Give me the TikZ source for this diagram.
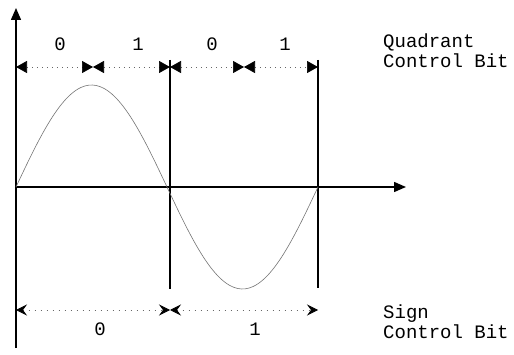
\documentclass[tikz,border=0pt]{standalone}
\usepackage{fontspec}
\setmainfont{Liberation Mono}
\usetikzlibrary{arrows.meta}
\tikzset{
  axis/.style={line width=1.5pt, -{Triangle[length=12pt,width=10pt]}},
  divider/.style={line width=1.1pt},
  wave/.style={line width=0.6pt, black!55},
  quadline/.style={black!60, line width=0.7pt, dash pattern=on 1pt off 4pt,
    {Triangle[length=11pt,width=12pt,color=black]}-{Triangle[length=11pt,width=12pt,color=black]}},
  signline/.style={black!60, line width=0.7pt, dash pattern=on 1pt off 5pt,
    {Stealth[length=11pt,width=11pt,inset=4pt,color=black]}-{Stealth[length=11pt,width=11pt,inset=4pt,color=black]}},
  bitlabel/.style={font=\fontsize{19}{21}\selectfont, inner sep=1pt},
  sidelabel/.style={font=\fontsize{19}{20}\selectfont, align=left, anchor=west, inner sep=0pt}
}
\begin{document}
\begin{tikzpicture}[x=1pt, y=-1pt]
  \useasboundingbox (0,0) rectangle (514,355);
  % axes
  \coordinate (origin) at (16,187);
  \coordinate (ybot) at (16,348);
  \coordinate (ytop) at (16,8);
  \coordinate (xend) at (406,187);
  \draw[axis] (ybot) -- (ytop);
  \draw[axis] (origin) -- (xend);

  % half period dividers
  \coordinate (midtop) at (170,60);
  \coordinate (midbot) at (170,289);
  \coordinate (endtop) at (318,60);
  \coordinate (endbot) at (318,288);
  \draw[divider] (midtop) -- (midbot);
  \draw[divider] (endtop) -- (endbot);

  % one period of the sine
  \draw[wave] plot[domain=0:302, samples=80, smooth] ({16+\x}, {187-102*sin(1.19205*\x)});

  % quadrant control bit
  \coordinate (q0) at (16,67);
  \coordinate (q1) at (93,67);
  \coordinate (q2) at (170,67);
  \coordinate (q3) at (244,67);
  \coordinate (q4) at (318,67);
  \draw[quadline] (q0) -- (q1);
  \draw[quadline] (q1) -- (q2);
  \draw[quadline] (q2) -- (q3);
  \draw[quadline] (q3) -- (q4);
  \node[bitlabel] (qa) at (60,44) {0};
  \node[bitlabel] (qb) at (138,44) {1};
  \node[bitlabel] (qc) at (212,44) {0};
  \node[bitlabel] (qd) at (285,44) {1};

  % sign control bit
  \coordinate (s0) at (16,310);
  \coordinate (s1) at (170,310);
  \coordinate (s2) at (318,310);
  \draw[signline] (s0) -- (s1);
  \draw[signline] (s1) -- (s2);
  \node[bitlabel] (sa) at (100,329) {0};
  \node[bitlabel] (sb) at (255,329) {1};

  \node[sidelabel] (quadtext) at (383,51) {Quadrant\\Control Bit};
  \node[sidelabel] (signtext) at (383,322) {Sign\\Control Bit};
\end{tikzpicture}
\end{document}
